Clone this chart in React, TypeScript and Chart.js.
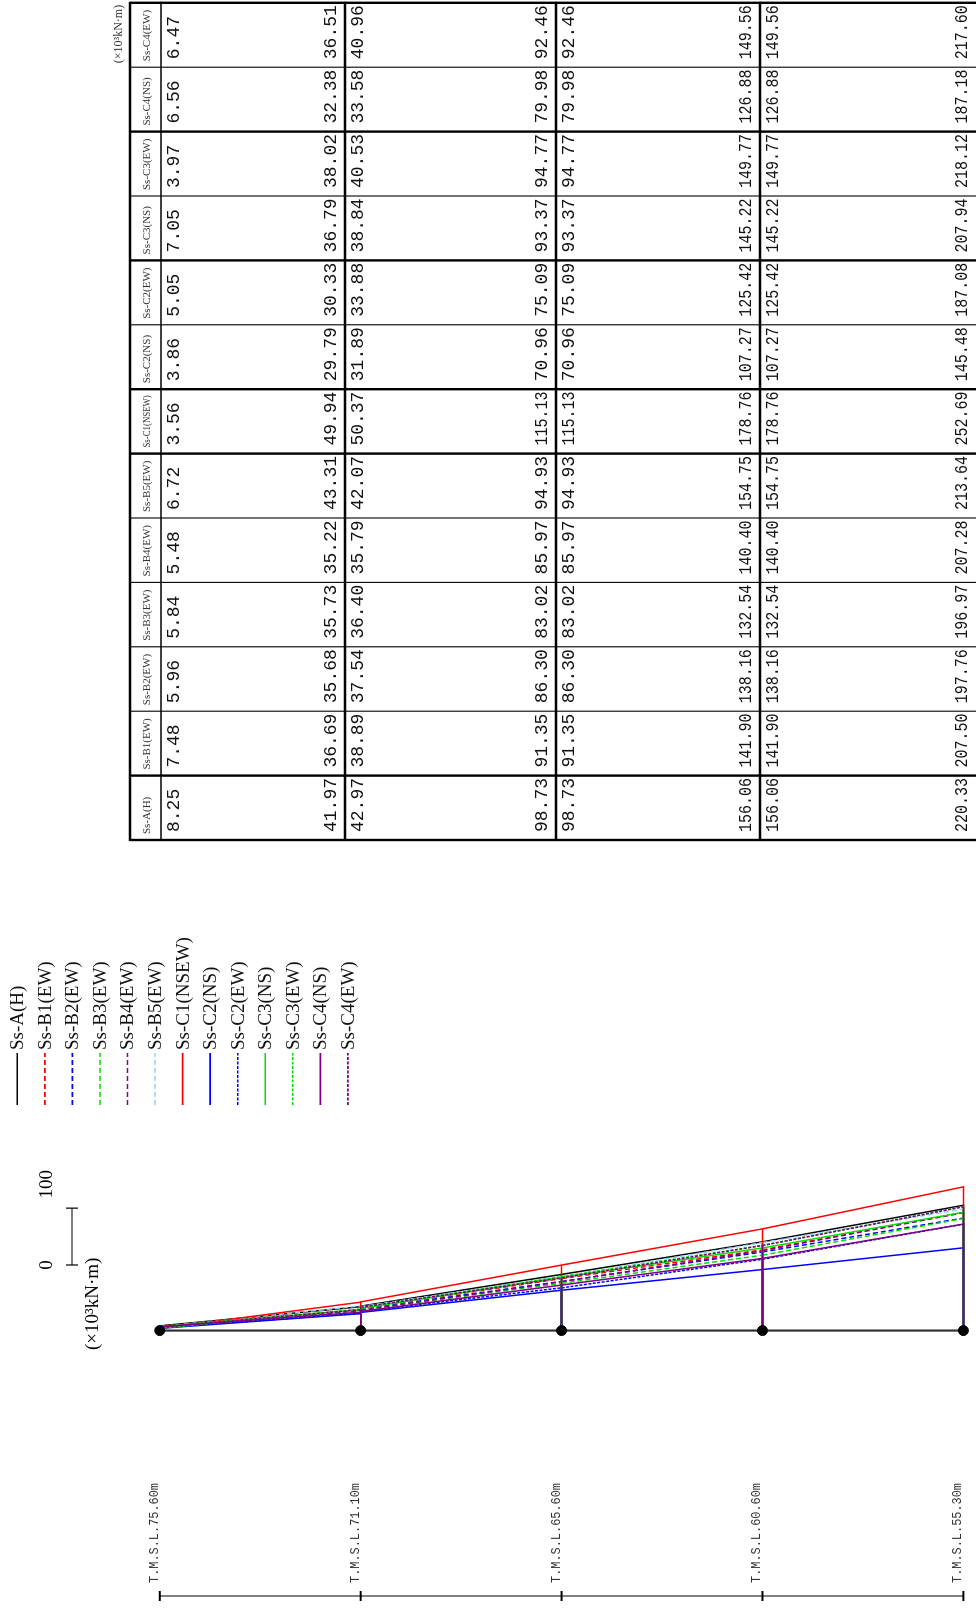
import { useEffect, useRef } from "react";
import { Chart, registerables } from "chart.js";

Chart.register(...registerables);

// ---------- data ----------
const levels = ["T.M.S.L.75.60m", "T.M.S.L.71.10m", "T.M.S.L.65.60m", "T.M.S.L.60.60m", "T.M.S.L.55.30m"];

const seriesNames = [
  "Ss-A(H)", "Ss-B1(EW)", "Ss-B2(EW)", "Ss-B3(EW)", "Ss-B4(EW)", "Ss-B5(EW)",
  "Ss-C1(NSEW)", "Ss-C2(NS)", "Ss-C2(EW)", "Ss-C3(NS)", "Ss-C3(EW)", "Ss-C4(NS)", "Ss-C4(EW)",
];

// per series: [segment1 top, segment1 bottom, segment2 top, segment2 bottom, ...] (x10^3 kN·m)
const ssA = [8.25, 41.97, 42.97, 98.73, 98.73, 156.06, 156.06, 220.33];
const ssB1 = [7.48, 36.69, 38.89, 91.35, 91.35, 141.90, 141.90, 207.50];
const ssB2 = [5.96, 35.68, 37.54, 86.30, 86.30, 138.16, 138.16, 197.76];
const ssB3 = [5.84, 35.73, 36.40, 83.02, 83.02, 132.54, 132.54, 196.97];
const ssB4 = [5.48, 35.22, 35.79, 85.97, 85.97, 140.40, 140.40, 207.28];
const ssB5 = [6.72, 43.31, 42.07, 94.93, 94.93, 154.75, 154.75, 213.64];
const ssC1 = [3.56, 49.94, 50.37, 115.13, 115.13, 178.76, 178.76, 252.69];
const ssC2NS = [3.86, 29.79, 31.89, 70.96, 70.96, 107.27, 107.27, 145.48];
const ssC2EW = [5.05, 30.33, 33.88, 75.09, 75.09, 125.42, 125.42, 187.08];
const ssC3NS = [7.05, 36.79, 38.84, 93.37, 93.37, 145.22, 145.22, 207.94];
const ssC3EW = [3.97, 38.02, 40.53, 94.77, 94.77, 149.77, 149.77, 218.12];
const ssC4NS = [6.56, 32.38, 33.58, 79.98, 79.98, 126.88, 126.88, 187.18];
const ssC4EW = [6.47, 36.51, 40.96, 92.46, 92.46, 149.56, 149.56, 217.60];

const seriesValues = [ssA, ssB1, ssB2, ssB3, ssB4, ssB5, ssC1, ssC2NS, ssC2EW, ssC3NS, ssC3EW, ssC4NS, ssC4EW];

const scaleLabels = ["0", "100"];
const scaleUnit = "(×10³kN·m)";

// ---------- styles ----------
const seriesColors = [
  "#000000", "#ff0000", "#0000ff", "#00e000", "#800080", "#99ccff",
  "#ff0000", "#0000ff", "#0000ff", "#00e000", "#00e000", "#800080", "#800080",
];
const DASH = [5, 3];
const FINE = [3, 1.5];
const seriesDashes = [
  [], DASH, DASH, DASH, DASH, DASH,
  [], [], FINE, [], FINE, [], FINE,
];

const W = 1610; // natural (un-rotated) canvas width
const H = 976;
const PX_PER_UNIT = 0.573;
const BASE_X = 275.5;
const NODE_Y0 = 155.7;
const NODE_STEP = 203.4;

const MONO = "'Liberation Mono', monospace";
const SERIF = "'Liberation Serif', serif";

function seriesPoints(v: number[]) {
  const pts: { x: number; y: number }[] = [{ x: 0, y: 0 }];
  for (let s = 0; s < 4; s++) {
    pts.push({ x: v[2 * s], y: s });
    pts.push({ x: v[2 * s + 1], y: s + 1 });
    pts.push({ x: 0, y: s + 1 });
  }
  return pts;
}

const figurePlugin = {
  id: "figure",
  beforeDraw(chart: any) {
    const ctx = chart.ctx;
    ctx.save();
    ctx.fillStyle = "#ffffff";
    ctx.fillRect(0, 0, chart.width, chart.height);
    ctx.restore();
  },
  afterDraw(chart: any) {
    const ctx: CanvasRenderingContext2D = chart.ctx;
    const xs = chart.scales.x;
    const ys = chart.scales.y;
    ctx.save();

    // ---- elevation axis ----
    const axX = 14;
    const yTop = ys.getPixelForValue(0);
    const yBot = ys.getPixelForValue(levels.length - 1);
    ctx.strokeStyle = "#555";
    ctx.lineWidth = 1.5;
    ctx.beginPath();
    ctx.moveTo(axX, yTop);
    ctx.lineTo(axX, yBot);
    ctx.stroke();
    ctx.strokeStyle = "#000";
    ctx.lineWidth = 2;
    ctx.font = `13px ${MONO}`;
    ctx.fillStyle = "#333";
    ctx.textAlign = "left";
    ctx.textBaseline = "alphabetic";
    levels.forEach((lab, i) => {
      const y = ys.getPixelForValue(i);
      ctx.beginPath();
      ctx.moveTo(axX - 5, y);
      ctx.lineTo(axX + 5, y);
      ctx.stroke();
      ctx.fillText(lab, 27, y - 2, 100);
    });

    // ---- scale bar ----
    const sb0 = 345;
    const sbLen = xs.getPixelForValue(100) - xs.getPixelForValue(0);
    const sbY = 72;
    ctx.strokeStyle = "#000";
    ctx.lineWidth = 1.2;
    ctx.beginPath();
    ctx.moveTo(sb0, sbY);
    ctx.lineTo(sb0 + sbLen, sbY);
    ctx.moveTo(sb0, sbY - 6);
    ctx.lineTo(sb0, sbY + 6);
    ctx.moveTo(sb0 + sbLen, sbY - 6);
    ctx.lineTo(sb0 + sbLen, sbY + 6);
    ctx.stroke();
    ctx.fillStyle = "#000";
    ctx.font = `19px ${SERIF}`;
    ctx.textAlign = "center";
    ctx.textBaseline = "middle";
    ctx.fillText(scaleLabels[0], sb0, 47);
    ctx.fillText(scaleLabels[1], sb0 + sbLen + 24, 47);
    ctx.textAlign = "left";
    ctx.fillText(scaleUnit, 260, 93);

    // ---- legend ----
    const lgY0 = 17.3;
    const lgStep = 27.55;
    seriesNames.forEach((name, i) => {
      const y = lgY0 + lgStep * i;
      ctx.strokeStyle = seriesColors[i];
      ctx.lineWidth = 1.6;
      ctx.setLineDash(seriesDashes[i]);
      ctx.beginPath();
      ctx.moveTo(505, y);
      ctx.lineTo(557, y);
      ctx.stroke();
      ctx.setLineDash([]);
      ctx.fillStyle = "#111";
      ctx.font = `19px ${SERIF}`;
      ctx.textAlign = "left";
      ctx.textBaseline = "middle";
      ctx.fillText(name, 560, y + 1);
    });

    // ---- table ----
    const tLeft = 770;
    const colW = 64.4;
    const nCols = seriesNames.length;
    const tRight = tLeft + colW * nCols;
    const tTop = 130;
    const hdrBot = 161;
    const rowB = [hdrBot, 345, 556, 760, 976];
    const thickCols = new Set([0, 1, 6, 7, 9, 11, 13]);

    ctx.strokeStyle = "#000";
    for (let c = 0; c <= nCols; c++) {
      const x = tLeft + colW * c;
      ctx.lineWidth = thickCols.has(c) ? 2.4 : 1.1;
      ctx.beginPath();
      ctx.moveTo(x, tTop);
      ctx.lineTo(x, H);
      ctx.stroke();
    }
    [tTop, ...rowB.slice(0, 4)].forEach((y, k) => {
      ctx.lineWidth = k === 1 ? 1.6 : 2.4;
      ctx.beginPath();
      ctx.moveTo(tLeft - 1, y);
      ctx.lineTo(tRight + 1, y);
      ctx.stroke();
    });

    // headers
    ctx.fillStyle = "#333";
    ctx.font = `11px ${SERIF}`;
    ctx.textAlign = "left";
    ctx.textBaseline = "middle";
    seriesNames.forEach((name, c) => {
      ctx.fillText(name, tLeft + colW * c + 6, (tTop + hdrBot) / 2 + 2, colW - 12);
    });

    // values
    ctx.fillStyle = "#111";
    ctx.font = `18px ${MONO}`;
    seriesValues.forEach((vals, c) => {
      const x = tLeft + colW * c + 8;
      for (let r = 0; r < 4; r++) {
        ctx.fillText(vals[2 * r].toFixed(2), x, rowB[r] + 13, 54);
        ctx.fillText(vals[2 * r + 1].toFixed(2), x, rowB[r + 1] - 14, 54);
      }
    });

    // unit above table
    ctx.fillStyle = "#333";
    ctx.font = `12px ${SERIF}`;
    ctx.textAlign = "right";
    ctx.textBaseline = "middle";
    ctx.fillText(scaleUnit, tRight - 2, 119);

    ctx.restore();
  },
};

export default function App() {
  const ref = useRef<HTMLCanvasElement>(null);

  useEffect(() => {
    const canvas = ref.current;
    if (!canvas) return;

    const datasets: any[] = seriesValues.map((vals, i) => ({
      label: seriesNames[i],
      data: seriesPoints(vals),
      showLine: true,
      borderColor: seriesColors[i],
      backgroundColor: seriesColors[i],
      borderWidth: 1.5,
      borderDash: seriesDashes[i],
      pointRadius: 0,
      fill: false,
      order: 30 - i,
      segment: {
        borderDash: (c: any) => (c.p0.parsed.y === c.p1.parsed.y ? [] : seriesDashes[i]),
      },
    }));

    datasets.push({
      label: "baseline",
      data: [{ x: 0, y: 0 }, { x: 0, y: levels.length - 1 }],
      showLine: true,
      borderColor: "#333",
      borderWidth: 2.2,
      pointRadius: 0,
      order: 1,
    });
    datasets.push({
      label: "nodes",
      data: levels.map((_, i) => ({ x: 0, y: i })),
      showLine: false,
      pointRadius: 5,
      pointBackgroundColor: "#000",
      pointBorderColor: "#000",
      order: 0,
    });

    const yMin = -NODE_Y0 / NODE_STEP;
    const chart = new Chart(canvas, {
      type: "scatter",
      data: { datasets },
      options: {
        responsive: false,
        animation: false,
        devicePixelRatio: 1,
        layout: { padding: 0 },
        plugins: { legend: { display: false }, tooltip: { enabled: false } },
        events: [],
        scales: {
          x: { type: "linear", display: false, min: -BASE_X / PX_PER_UNIT, max: (W - BASE_X) / PX_PER_UNIT },
          y: { type: "linear", display: false, reverse: true, min: yMin, max: yMin + H / NODE_STEP },
        },
      },
      plugins: [figurePlugin],
    } as any);

    return () => chart.destroy();
  }, []);

  return (
    <div
      style={{
        position: "absolute",
        left: 0,
        top: 0,
        width: 976,
        height: 1610,
        overflow: "hidden",
        background: "#ffffff",
      }}
    >
      <canvas
        ref={ref}
        width={W}
        height={H}
        style={{
          position: "absolute",
          left: 0,
          top: 0,
          width: W,
          height: H,
          transformOrigin: "0 0",
          transform: `translate(0px, ${W}px) rotate(-90deg)`,
        }}
      />
    </div>
  );
}
